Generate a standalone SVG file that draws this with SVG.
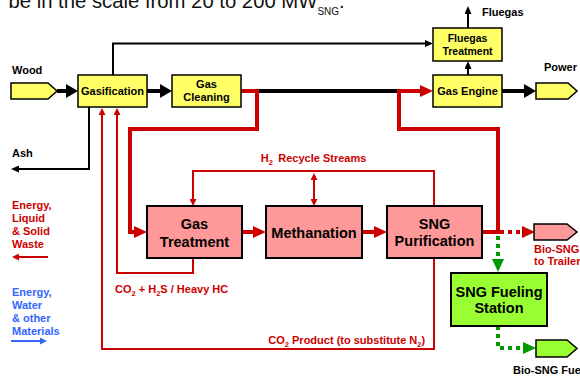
<svg xmlns="http://www.w3.org/2000/svg" width="580" height="378" viewBox="0 0 580 378">
<defs>
<style>
text{font-family:"Liberation Sans",Arial,Helvetica,sans-serif;font-weight:bold}
.lbl{font-size:11px;fill:#000}
.red{font-size:11px;fill:#CC0000}
.blue{font-size:11px;fill:#3366FF}
.sm{font-size:11px;text-anchor:middle;fill:#000}
.big{font-size:14.5px;text-anchor:middle;fill:#000}
.sub{font-size:7.5px}
.ybox{fill:#FFFF66;stroke:#000;stroke-width:1.5}
.pbox{fill:#FF9999;stroke:#000;stroke-width:2}
.gbox{fill:#99FF33;stroke:#000;stroke-width:2}
.bkT{fill:none;stroke:#000;stroke-width:4}
.bk{fill:none;stroke:#000;stroke-width:2}
.rdT{fill:none;stroke:#CC0000;stroke-width:4}
.rd{fill:none;stroke:#CC0000;stroke-width:2}
.bl{fill:none;stroke:#3366FF;stroke-width:2}
.rdD{fill:none;stroke:#CC0000;stroke-width:4;stroke-dasharray:4 4}
.gnD{fill:none;stroke:#009900;stroke-width:4;stroke-dasharray:4 4}
</style>
<marker id="aBk" markerUnits="userSpaceOnUse" viewBox="0 -7 12 14" markerWidth="12" markerHeight="14" refX="1" refY="0" orient="auto"><path d="M0,-7L12,0L0,7z" fill="#000"/></marker>
<marker id="aBkS" markerUnits="userSpaceOnUse" viewBox="0 -3.5 8 7" markerWidth="8" markerHeight="7" refX="1" refY="0" orient="auto"><path d="M0,-3.5L8,0L0,3.5z" fill="#000"/></marker>
<marker id="aRd" markerUnits="userSpaceOnUse" viewBox="0 -6 13 12" markerWidth="13" markerHeight="12" refX="1" refY="0" orient="auto"><path d="M0,-6L13,0L0,6z" fill="#CC0000"/></marker>
<marker id="aRdS" markerUnits="userSpaceOnUse" viewBox="0 -3.5 7 7" markerWidth="7" markerHeight="7" refX="1" refY="0" orient="auto-start-reverse"><path d="M0,-3.5L7,0L0,3.5z" fill="#CC0000"/></marker>
<marker id="aBlS" markerUnits="userSpaceOnUse" viewBox="0 -3.5 7 7" markerWidth="7" markerHeight="7" refX="1" refY="0" orient="auto"><path d="M0,-3.5L7,0L0,3.5z" fill="#3366FF"/></marker>
<marker id="aGn" markerUnits="userSpaceOnUse" viewBox="0 -6 13 12" markerWidth="13" markerHeight="12" refX="1" refY="0" orient="auto"><path d="M0,-6L13,0L0,6z" fill="#009900"/></marker>
</defs>

<rect width="580" height="378" fill="#fff"/>

<text x="8.5" y="8" font-size="20.3" style="font-weight:normal" fill="#111">be in the scale from 20 to 200 MW<tspan font-size="10" dy="7">SNG</tspan><tspan dy="-7">.</tspan></text>

<g id="connectors">
  <!-- black thick -->
  <path class="bkT" d="M57,91H67" marker-end="url(#aBk)"/>
  <path class="bkT" d="M147,91H161" marker-end="url(#aBk)"/>
  <path class="bkT" d="M257,91H400"/>
  <path class="bkT" d="M502,91H525" marker-end="url(#aBk)"/>
  <!-- black thin -->
  <path class="bk" d="M113,75V43.5H426" marker-end="url(#aBkS)"/>
  <path class="bk" d="M468,75V68" marker-end="url(#aBkS)"/>
  <path class="bk" d="M468,28V13" marker-end="url(#aBkS)"/>
  <path class="bk" d="M89,107V169H18" marker-end="url(#aBkS)"/>
  <!-- red thick -->
  <path class="rdT" d="M241,91H257V129H130V232H135" marker-end="url(#aRd)"/>
  <path class="rdT" d="M242,232H254" marker-end="url(#aRd)"/>
  <path class="rdT" d="M362,232H375" marker-end="url(#aRd)"/>
  <path class="rdT" d="M482,232H498V129H399V91H421" marker-end="url(#aRd)"/>
  <!-- red thin -->
  <path class="rd" d="M434,258V349H102V114" marker-end="url(#aRdS)"/>
  <path class="rd" d="M193,258V273H117V114" marker-end="url(#aRdS)"/>
  <path class="rd" d="M434,206V171H193V200" marker-end="url(#aRdS)"/>
  <path class="rd" d="M314,179V200" marker-start="url(#aRdS)" marker-end="url(#aRdS)"/>
  <!-- dotted -->
  <path class="rdD" d="M500,232H523" marker-end="url(#aRd)"/>
  <path class="gnD" d="M498,236V260" marker-end="url(#aGn)"/>
  <path class="gnD" d="M498,326V348H524" marker-end="url(#aGn)"/>
</g>

<g id="legend">
  <text class="red" x="12" y="209">Energy,</text>
  <text class="red" x="12" y="222">Liquid</text>
  <text class="red" x="12" y="235">&amp; Solid</text>
  <text class="red" x="12" y="248">Waste</text>
  <path class="rd" d="M48,257H18" marker-end="url(#aRdS)"/>
  <text class="blue" x="12" y="296">Energy,</text>
  <text class="blue" x="12" y="309">Water</text>
  <text class="blue" x="12" y="322">&amp; other</text>
  <text class="blue" x="12" y="335">Materials</text>
  <path class="bl" d="M11,341H41" marker-end="url(#aBlS)"/>
</g>

<g id="labels">
  <text class="lbl" x="12" y="74">Wood</text>
  <text class="lbl" x="12" y="157">Ash</text>
  <text class="lbl" x="482" y="16">Fluegas</text>
  <text class="lbl" x="544" y="71">Power</text>
  <text class="red" x="260.7" y="161.5">H<tspan class="sub" dy="3">2</tspan><tspan x="278.3" dy="-3">Recycle Streams</tspan></text>
  <text class="red" x="115" y="293">CO<tspan class="sub" dy="3">2</tspan><tspan dy="-3"> + H</tspan><tspan class="sub" dy="3">2</tspan><tspan dy="-3">S / Heavy HC</tspan></text>
  <text class="red" x="268.3" y="344">CO<tspan class="sub" dy="3">2</tspan><tspan dy="-3"> Product (to substitute N</tspan><tspan class="sub" dy="3">2</tspan><tspan dy="-3">)</tspan></text>
  <text class="red" x="534" y="253">Bio-SNG</text>
  <text class="red" x="534" y="265">to Trailer</text>
  <text class="lbl" x="513" y="374">Bio-SNG Fue</text>
</g>

<g id="wood"><polygon class="ybox" points="11,83 48,83 57,91 48,99 11,99"/></g>
<g id="gasification"><rect class="ybox" x="78" y="75" width="69" height="32"/><text class="sm" x="112.5" y="95">Gasification</text></g>
<g id="gas-cleaning"><rect class="ybox" x="172" y="75" width="69" height="32"/><text class="sm" x="206.5" y="88">Gas</text><text class="sm" x="206.5" y="101">Cleaning</text></g>
<g id="fluegas-treatment"><rect class="ybox" x="433" y="28" width="69" height="33"/><text class="sm" style="font-size:10.5px" x="467.5" y="41.5">Fluegas</text><text class="sm" style="font-size:10.5px" x="467.5" y="54.5">Treatment</text></g>
<g id="gas-engine"><rect class="ybox" x="433" y="75" width="69" height="32"/><text class="sm" x="467.5" y="95">Gas Engine</text></g>
<g id="power"><polygon class="ybox" points="536,83 568,83 577,91 568,99 536,99"/></g>
<g id="gas-treatment"><rect class="pbox" x="147" y="206" width="95" height="52"/><text class="big" x="194.5" y="229">Gas</text><text class="big" x="194.5" y="247">Treatment</text></g>
<g id="methanation"><rect class="pbox" x="266" y="206" width="96" height="52"/><text class="big" x="314" y="238">Methanation</text></g>
<g id="sng-purification"><rect class="pbox" x="387" y="206" width="95" height="52"/><text class="big" x="434.5" y="229">SNG</text><text class="big" x="434.5" y="246">Purification</text></g>
<g id="bio-sng-trailer"><polygon class="pbox" style="stroke-width:1.5" points="534,224 567,224 577,232 567,240 534,240"/></g>
<g id="sng-fueling-station"><rect class="gbox" x="451" y="273" width="96" height="53"/><text class="big" x="499" y="297">SNG Fueling</text><text class="big" x="499" y="313">Station</text></g>
<g id="bio-sng-fuel"><polygon class="gbox" style="stroke-width:1.5" points="536,340 567,340 577,348.5 567,357 536,357"/></g>
</svg>
